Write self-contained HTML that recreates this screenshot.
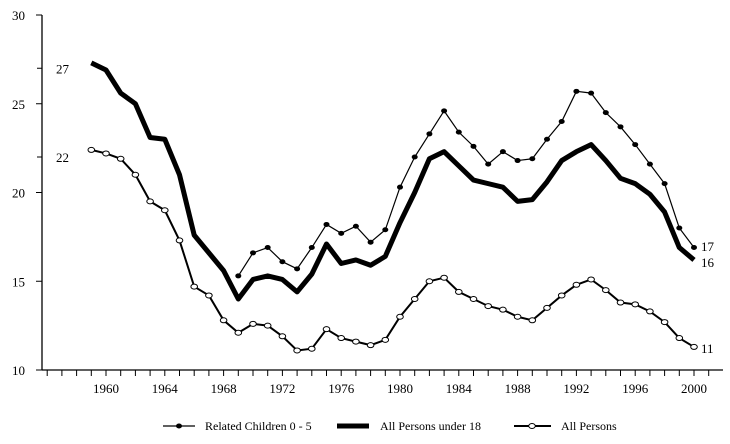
<!DOCTYPE html>
<html><head><meta charset="utf-8"><style>
body{margin:0;background:#fff;}
svg{display:block;font-family:"Liberation Serif",serif;}
</style></head><body>
<svg id="c" width="730" height="444" xmlns="http://www.w3.org/2000/svg"></svg>
<script>
const s=document.getElementById('c');
const X=y=>106+(y-1960)*14.7, Y=v=>370-(v-10)*17.75;
let h='';
h+='<line x1="42" y1="15" x2="42" y2="370" stroke="#000" stroke-width="1.3"/>';
h+='<line x1="42" y1="370" x2="723" y2="370" stroke="#000" stroke-width="1.3"/>';
for(let v=10;v<=30;v++){let y=Y(v);if(v%5==0||[22,27].includes(v)){}
}
[10,15,20,25,30].forEach(v=>{h+=`<line x1="36" y1="${Y(v)}" x2="42" y2="${Y(v)}" stroke="#000"/><text x="12" y="${Y(v)+5}" font-size="13">${v}</text>`;});
[22,27].forEach(v=>{h+=`<line x1="37" y1="${Y(v)}" x2="42" y2="${Y(v)}" stroke="#000"/><text x="56" y="${Y(v)+5}" font-size="13">${v}</text>`;});
for(let yr=1956;yr<=2001;yr++){h+=`<line x1="${X(yr)}" y1="370" x2="${X(yr)}" y2="376" stroke="#000"/>`;}
for(let yr=1960;yr<=2000;yr+=4){h+=`<text x="${X(yr)}" y="393" font-size="13" text-anchor="middle">${yr}</text>`;}
const u18=[27.3,26.9,25.6,25.0,23.1,23.0,21.0,17.6,16.6,15.6,14.0,15.1,15.3,15.1,14.4,15.4,17.1,16.0,16.2,15.9,16.4,18.3,20.0,21.9,22.3,21.5,20.7,20.5,20.3,19.5,19.6,20.6,21.8,22.3,22.7,21.8,20.8,20.5,19.9,18.9,16.9,16.2];
const ap=[22.4,22.2,21.9,21.0,19.5,19.0,17.3,14.7,14.2,12.8,12.1,12.6,12.5,11.9,11.1,11.2,12.3,11.8,11.6,11.4,11.7,13.0,14.0,15.0,15.2,14.4,14.0,13.6,13.4,13.0,12.8,13.5,14.2,14.8,15.1,14.5,13.8,13.7,13.3,12.7,11.8,11.3];
const rc=[15.3,16.6,16.9,16.1,15.7,16.9,18.2,17.7,18.1,17.2,17.9,20.3,22.0,23.3,24.6,23.4,22.6,21.6,22.3,21.8,21.9,23.0,24.0,25.7,25.6,24.5,23.7,22.7,21.6,20.5,18.0,16.9];
const pts=(a,st)=>a.map((v,i)=>X(st+i)+','+Y(v)).join(' ');
h+=`<polyline points="${pts(u18,1959)}" fill="none" stroke="#000" stroke-width="5" stroke-linejoin="round"/>`;
h+=`<polyline points="${pts(rc,1969)}" fill="none" stroke="#000" stroke-width="1.2"/>`;
rc.forEach((v,i)=>h+=`<ellipse cx="${X(1969+i)}" cy="${Y(v)}" rx="3" ry="2.5" fill="#000"/>`);
h+=`<polyline points="${pts(ap,1959)}" fill="none" stroke="#000" stroke-width="2"/>`;
ap.forEach((v,i)=>h+=`<ellipse cx="${X(1959+i)}" cy="${Y(v)}" rx="3.3" ry="2.5" fill="#fff" stroke="#000" stroke-width="1"/>`);
h+=`<text x="701" y="251" font-size="13">17</text><text x="701" y="267" font-size="13">16</text><text x="701" y="353" font-size="13">11</text>`;
h+='<line x1="163" y1="426" x2="195" y2="426" stroke="#000" stroke-width="1.2"/><ellipse cx="179" cy="426" rx="3" ry="2.5"/>';
h+='<text x="205" y="430" font-size="12">Related Children 0 - 5</text>';
h+='<line x1="337" y1="426" x2="369" y2="426" stroke="#000" stroke-width="5"/>';
h+='<text x="380" y="430" font-size="12">All Persons under 18</text>';
h+='<line x1="514" y1="426" x2="551" y2="426" stroke="#000" stroke-width="2"/><ellipse cx="532" cy="426" rx="3.3" ry="2.5" fill="#fff" stroke="#000"/>';
h+='<text x="561" y="430" font-size="12">All Persons</text>';
s.innerHTML=h;
</script>
</body></html>
